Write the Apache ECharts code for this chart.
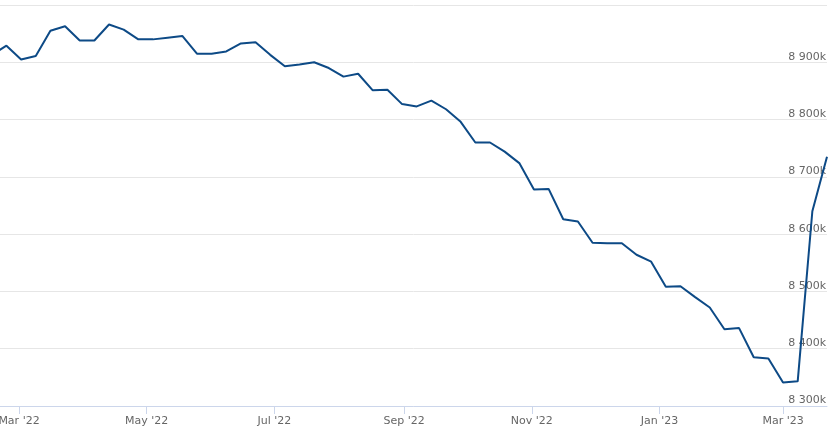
<!DOCTYPE html>
<html>
<head>
<meta charset="utf-8">
<script src="https://cdn.jsdelivr.net/npm/echarts@6/dist/echarts.min.js"></script>
<style>
html,body{margin:0;padding:0;background:#fff;}
#chart{width:837px;height:434px;}
</style>
</head>
<body>
<div id="chart"></div>
<script>
// Weekly dates (Wednesdays)
const dates = [
  '2022-02-16','2022-02-23','2022-03-02','2022-03-09','2022-03-16','2022-03-23','2022-03-30',
  '2022-04-06','2022-04-13','2022-04-20','2022-04-27','2022-05-04','2022-05-11','2022-05-18',
  '2022-05-25','2022-06-01','2022-06-08','2022-06-15','2022-06-22','2022-06-29','2022-07-06',
  '2022-07-13','2022-07-20','2022-07-27','2022-08-03','2022-08-10','2022-08-17','2022-08-24',
  '2022-08-31','2022-09-07','2022-09-14','2022-09-21','2022-09-28','2022-10-05','2022-10-12',
  '2022-10-19','2022-10-26','2022-11-02','2022-11-09','2022-11-16','2022-11-23','2022-11-30',
  '2022-12-07','2022-12-14','2022-12-21','2022-12-28','2023-01-04','2023-01-11','2023-01-18',
  '2023-01-25','2023-02-01','2023-02-08','2023-02-15','2023-02-22','2023-03-01','2023-03-08',
  '2023-03-15','2023-03-22'
];
// Values in thousands
const values = [
  8913, 8929, 8905, 8911, 8955, 8963, 8938, 8938, 8966, 8957, 8940, 8940, 8943, 8946,
  8915, 8915, 8919, 8933, 8935, 8913, 8893, 8896, 8900, 8890, 8875, 8880, 8851, 8852,
  8827, 8823, 8833, 8818, 8796, 8760, 8760, 8744, 8724, 8678, 8679, 8626, 8622, 8585,
  8584, 8584, 8564, 8552, 8508, 8509, 8490, 8472, 8434, 8436, 8385, 8383, 8341, 8343,
  8640, 8735
];
const xTickDates = ['2022-03-01','2022-05-01','2022-07-01','2022-09-01','2022-11-01','2023-01-01','2023-03-01'];
const xTickLabels = ["Mar '22","May '22","Jul '22","Sep '22","Nov '22","Jan '23","Mar '23"];
const yTickValues = [8300, 8400, 8500, 8600, 8700, 8800, 8900, 9000];
const yTickLabels = ['8 300k','8 400k','8 500k','8 600k','8 700k','8 800k','8 900k',''];

function ts(s){ const p = s.split('-').map(Number); return Date.UTC(p[0], p[1]-1, p[2]); }

const seriesData = dates.map((d, i) => [ts(d), values[i]]);
const tickTs = xTickDates.map(ts);

const chart = echarts.init(document.getElementById('chart'), null, {renderer: 'canvas'});
chart.setOption({
  animation: false,
  backgroundColor: '#ffffff',
  grid: {left: 0, right: 10, top: 5, bottom: 28, containLabel: false, outerBoundsMode: 'none'},
  xAxis: {
    type: 'value',
    min: Date.UTC(2022, 1, 19, 22),
    max: ts('2023-03-22'),
    axisLine: {show: true, lineStyle: {color: '#ccd6eb', width: 1}},
    axisTick: {show: true, length: 8, lineStyle: {color: '#ccd6eb'}, customValues: tickTs},
    splitLine: {show: false},
    axisLabel: {
      customValues: tickTs,
      showMinLabel: true,
      showMaxLabel: true,
      color: '#666666',
      fontFamily: 'DejaVu Sans',
      fontSize: 11,
      margin: 10,
      hideOverlap: false,
      formatter: function (v) {
        const i = tickTs.indexOf(v);
        return i >= 0 ? xTickLabels[i] : '';
      }
    }
  },
  yAxis: {
    type: 'value',
    position: 'right',
    min: 8300,
    max: 9000,
    interval: 100,
    axisLine: {show: false},
    axisTick: {show: false},
    splitLine: {show: true, lineStyle: {color: '#e6e6e6', width: 1}},
    axisLabel: {
      inside: true,
      margin: 1,
      verticalAlign: 'bottom',
      padding: [0, 0, 0, 0],
      color: '#666666',
      fontFamily: 'DejaVu Sans',
      fontSize: 11,
      formatter: function (v) {
        const i = yTickValues.indexOf(v);
        return i >= 0 ? yTickLabels[i] : '';
      }
    }
  },
  series: [{
    type: 'line',
    data: seriesData,
    showSymbol: false,
    symbol: 'none',
    clip: true,
    lineStyle: {color: '#0d4a86', width: 2},
    itemStyle: {color: '#0d4a86'}
  }]
});
</script>
</body>
</html>
